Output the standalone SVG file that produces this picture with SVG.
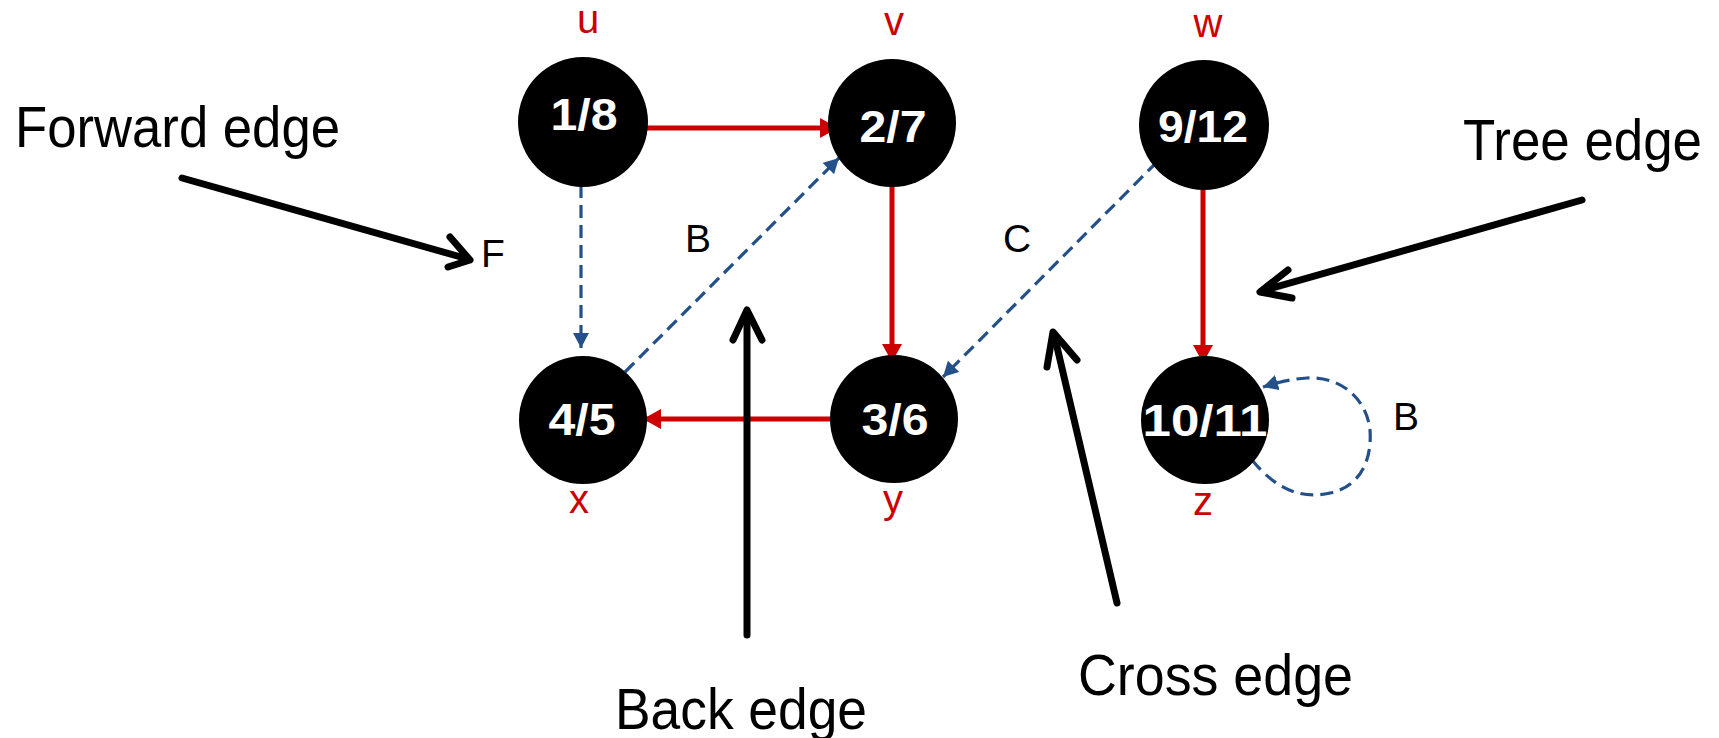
<svg xmlns="http://www.w3.org/2000/svg" width="1719" height="738" viewBox="0 0 1719 738">
  <defs>
    <marker id="redHead" markerUnits="userSpaceOnUse" markerWidth="20" markerHeight="22" refX="18" refY="10" orient="auto">
      <path d="M0,0 L18,10 L0,20 Z" fill="#CC0000"/>
    </marker>
    <marker id="blueHead" markerUnits="userSpaceOnUse" markerWidth="18" markerHeight="18" refX="15" refY="8" orient="auto">
      <path d="M0,0 L15,8 L0,16 Z" fill="#24508A"/>
    </marker>
  </defs>
  <style>
    .node { fill: #000000; }
    .num { fill: #FFFFFF; font-family: "Liberation Sans", Arial, sans-serif; font-weight: bold; font-size: 45px; text-anchor: middle; }
    .name { fill: #CC0000; font-family: "Liberation Sans", Arial, sans-serif; font-size: 40px; text-anchor: middle; }
    .tree { stroke: #CC0000; stroke-width: 5; fill: none; marker-end: url(#redHead); }
    .dash { stroke: #24508A; stroke-width: 3.2; stroke-dasharray: 13 7; fill: none; marker-end: url(#blueHead); }
    .call { stroke: #000000; stroke-width: 7; fill: none; stroke-linecap: round; stroke-linejoin: round; }
    .tag { fill: #000000; font-family: "Liberation Sans", Arial, sans-serif; font-size: 39px; }
    .caption { fill: #000000; font-family: "Liberation Sans", Arial, sans-serif; font-size: 57px; }
  </style>

  <rect width="1719" height="738" fill="#FFFFFF"/>

  <!-- graph edges -->
  <g id="connectors">
    <line class="tree" x1="644" y1="128" x2="838" y2="128"/>
    <line class="tree" x1="892" y1="187" x2="892" y2="362"/>
    <line class="tree" x1="835" y1="419" x2="643" y2="419"/>
    <line class="tree" x1="1203" y1="188" x2="1203" y2="363"/>

    <line class="dash" x1="581" y1="185" x2="581" y2="348"/>
    <line class="dash" x1="625" y1="372" x2="839" y2="158"/>
    <line class="dash" x1="1157" y1="162" x2="943" y2="377"/>
    <path class="dash" d="M1252,460 C1275,488 1300,500 1330,493 C1362,486 1372,458 1370,430 C1367,400 1342,376 1307,378 C1290,379 1276,383 1263,387"/>
  </g>

  <!-- nodes -->
  <g id="node-u">
    <circle class="node" cx="583" cy="122" r="65"/>
    <text class="num" x="584" y="130" textLength="67" lengthAdjust="spacingAndGlyphs">1/8</text>
    <text class="name" x="588" y="33">u</text>
  </g>
  <g id="node-v">
    <circle class="node" cx="892" cy="123" r="64"/>
    <text class="num" x="893" y="142" textLength="67" lengthAdjust="spacingAndGlyphs">2/7</text>
    <text class="name" x="894" y="35">v</text>
  </g>
  <g id="node-w">
    <circle class="node" cx="1204" cy="125" r="65"/>
    <text class="num" x="1203" y="142" textLength="90" lengthAdjust="spacingAndGlyphs">9/12</text>
    <text class="name" x="1208" y="37">w</text>
  </g>
  <g id="node-x">
    <circle class="node" cx="583" cy="420" r="64"/>
    <text class="num" x="582" y="435" textLength="67" lengthAdjust="spacingAndGlyphs">4/5</text>
    <text class="name" x="579" y="513">x</text>
  </g>
  <g id="node-y">
    <circle class="node" cx="894" cy="419" r="64"/>
    <text class="num" x="895" y="435" textLength="67" lengthAdjust="spacingAndGlyphs">3/6</text>
    <text class="name" x="893" y="513">y</text>
  </g>
  <g id="node-z">
    <circle class="node" cx="1205" cy="420" r="64"/>
    <text class="num" x="1205" y="436" textLength="125" lengthAdjust="spacingAndGlyphs">10/11</text>
    <text class="name" x="1203" y="515">z</text>
  </g>

  <!-- edge type letters -->
  <g id="edge-tags">
    <text class="tag" x="481" y="267">F</text>
    <text class="tag" x="685" y="252">B</text>
    <text class="tag" x="1003" y="252">C</text>
    <text class="tag" x="1393" y="430">B</text>
  </g>

  <!-- explanatory callouts -->
  <g id="callout-forward">
    <text class="caption" x="15" y="147" textLength="325" lengthAdjust="spacingAndGlyphs">Forward edge</text>
    <line class="call" x1="182" y1="178" x2="468" y2="259"/>
    <polyline class="call" points="450,237 470,260 448,267"/>
  </g>
  <g id="callout-tree">
    <text class="caption" x="1463" y="160" textLength="239" lengthAdjust="spacingAndGlyphs">Tree edge</text>
    <line class="call" x1="1582" y1="200" x2="1262" y2="291"/>
    <polyline class="call" points="1288,270 1260,292 1292,298"/>
  </g>
  <g id="callout-back">
    <text class="caption" x="615" y="729" textLength="252" lengthAdjust="spacingAndGlyphs">Back edge</text>
    <line class="call" x1="747" y1="635" x2="747" y2="312"/>
    <polyline class="call" points="733,340 747,310 762,340"/>
  </g>
  <g id="callout-cross">
    <text class="caption" x="1078" y="695" textLength="275" lengthAdjust="spacingAndGlyphs">Cross edge</text>
    <line class="call" x1="1117" y1="603" x2="1054" y2="334"/>
    <polyline class="call" points="1047,367 1053,332 1077,360"/>
  </g>
</svg>
